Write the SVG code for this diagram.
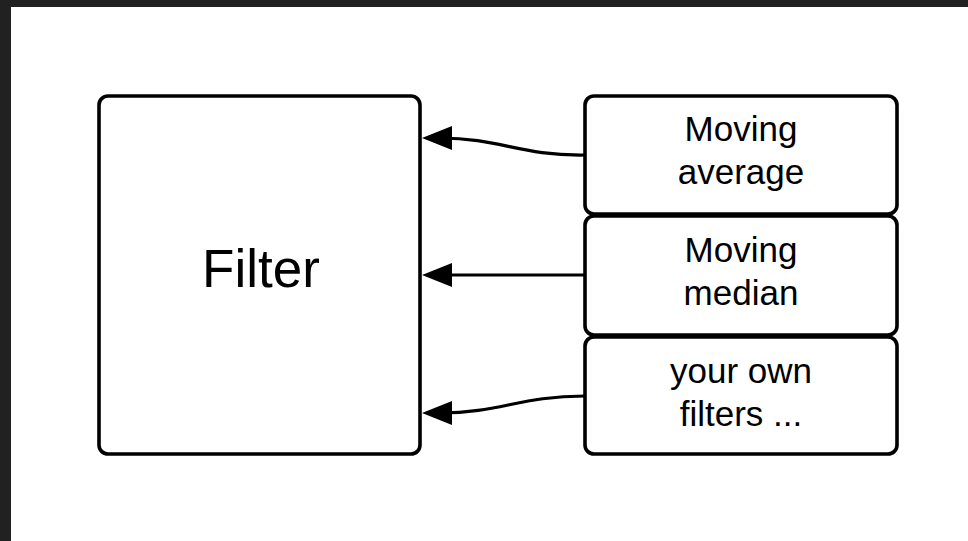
<svg xmlns="http://www.w3.org/2000/svg" width="968" height="541" viewBox="0 0 968 541">
<defs>
<style>
.box{fill:#ffffff;stroke:#000000;stroke-width:3.6}
.lbl{font-family:"Liberation Sans",Arial,sans-serif;fill:#000000;text-anchor:middle}
.small{font-size:35px}
.big{font-size:53px}
.conn{fill:none;stroke:#000000;stroke-width:3.2}
</style>
<marker id="arr" markerUnits="userSpaceOnUse" markerWidth="32" markerHeight="26" refX="12" refY="12" orient="auto" viewBox="0 0 32 26">
<path d="M0,0 L30,12 L0,24 z" fill="#000000"/>
</marker>
</defs>
<rect x="0" y="0" width="968" height="541" fill="#ffffff"/>
<rect x="0" y="0" width="968" height="7" fill="#212121"/>
<rect x="0" y="0" width="11" height="541" fill="#212121"/>
<g id="filter">
<rect class="box" x="99" y="96" width="321" height="358" rx="9"/>
<text class="lbl big" x="261" y="287">Filter</text>
</g>
<g id="moving-average">
<rect class="box" x="585" y="96" width="312" height="118" rx="9"/>
<text class="lbl small" x="741" y="141">Moving</text>
<text class="lbl small" x="741" y="184">average</text>
</g>
<g id="moving-median">
<rect class="box" x="585" y="216" width="312" height="119" rx="9"/>
<text class="lbl small" x="741" y="262">Moving</text>
<text class="lbl small" x="741" y="305">median</text>
</g>
<g id="your-own-filters">
<rect class="box" x="585" y="337" width="312" height="117" rx="9"/>
<text class="lbl small" x="741" y="383">your own</text>
<text class="lbl small" x="741" y="426">filters ...</text>
</g>
<g id="connectors">
<path class="conn" d="M585,155 C520,156 500,138 440,138" marker-end="url(#arr)"/>
<path class="conn" d="M585,275 L440,275" marker-end="url(#arr)"/>
<path class="conn" d="M585,396 C520,396 500,413 440,413" marker-end="url(#arr)"/>
</g>
</svg>
